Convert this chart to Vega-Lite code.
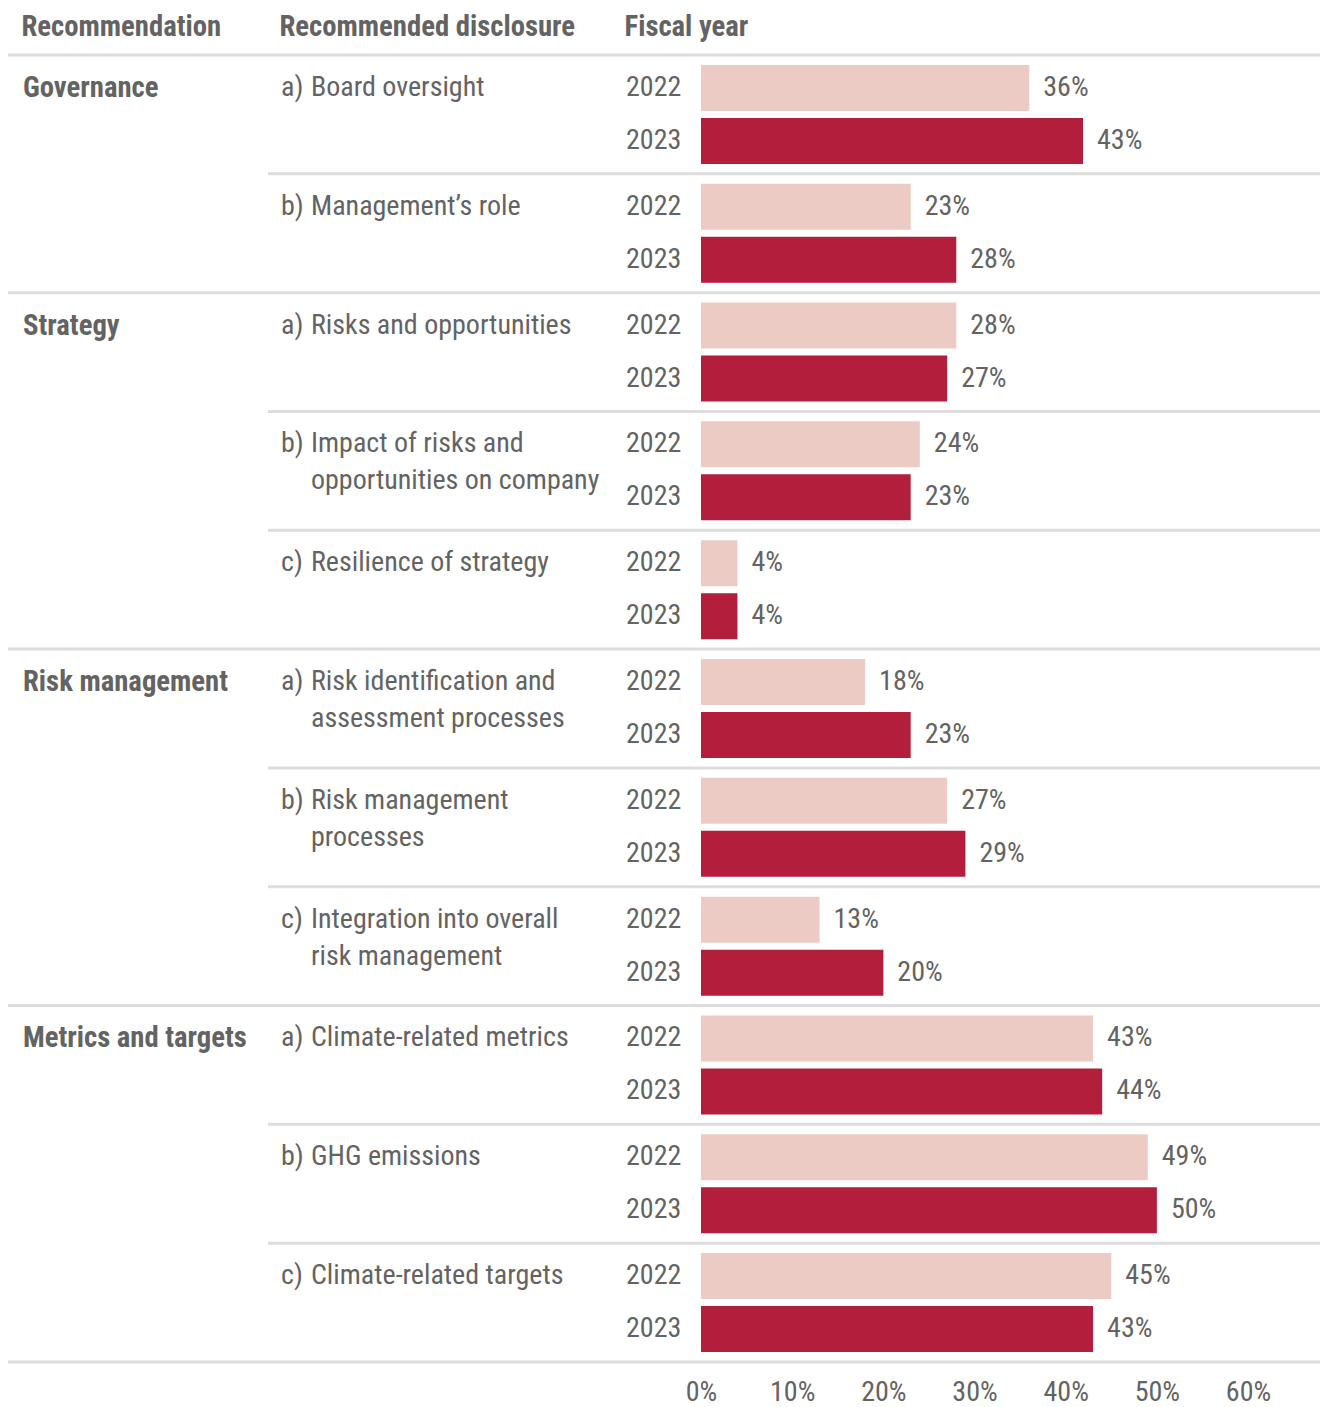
{
  "$schema": "https://vega.github.io/schema/vega-lite/v6.json",
  "padding": {"left": 6, "top": 12, "right": 0, "bottom": 0},
  "bounds": "flush",
  "spacing": 0,
  "config": {
    "view": {"stroke": null},
    "font": "Roboto Condensed, Liberation Sans Narrow, DejaVu Sans Condensed, Roboto",
    "title": {"fontSize": 28.7, "fontWeight": "bold", "color": "#636363", "anchor": "start", "baseline": "middle", "offset": 12, "font": "Roboto Condensed, Liberation Sans Narrow, DejaVu Sans Condensed, Roboto"},
    "text": {"fontSize": 28, "color": "#636363", "baseline": "middle", "align": "left"},
    "rule": {"stroke": "#DDDDDD", "strokeWidth": 3}
  },
  "datasets": {
    "bars": [
      {"rec": "Governance", "disc": "a) Board oversight", "year": "2022", "value": 0.36, "label": "36%"},
      {"rec": "Governance", "disc": "a) Board oversight", "year": "2023", "value": 0.419, "label": "43%"},
      {"rec": "Governance", "disc": "b) Management’s role", "year": "2022", "value": 0.23, "label": "23%"},
      {"rec": "Governance", "disc": "b) Management’s role", "year": "2023", "value": 0.28, "label": "28%"},
      {"rec": "Strategy", "disc": "a) Risks and opportunities", "year": "2022", "value": 0.28, "label": "28%"},
      {"rec": "Strategy", "disc": "a) Risks and opportunities", "year": "2023", "value": 0.27, "label": "27%"},
      {"rec": "Strategy", "disc": "b) Impact of risks and opportunities on company", "year": "2022", "value": 0.24, "label": "24%"},
      {"rec": "Strategy", "disc": "b) Impact of risks and opportunities on company", "year": "2023", "value": 0.23, "label": "23%"},
      {"rec": "Strategy", "disc": "c) Resilience of strategy", "year": "2022", "value": 0.04, "label": "4%"},
      {"rec": "Strategy", "disc": "c) Resilience of strategy", "year": "2023", "value": 0.04, "label": "4%"},
      {"rec": "Risk management", "disc": "a) Risk identification and assessment processes", "year": "2022", "value": 0.18, "label": "18%"},
      {"rec": "Risk management", "disc": "a) Risk identification and assessment processes", "year": "2023", "value": 0.23, "label": "23%"},
      {"rec": "Risk management", "disc": "b) Risk management processes", "year": "2022", "value": 0.27, "label": "27%"},
      {"rec": "Risk management", "disc": "b) Risk management processes", "year": "2023", "value": 0.29, "label": "29%"},
      {"rec": "Risk management", "disc": "c) Integration into overall risk management", "year": "2022", "value": 0.13, "label": "13%"},
      {"rec": "Risk management", "disc": "c) Integration into overall risk management", "year": "2023", "value": 0.20, "label": "20%"},
      {"rec": "Metrics and targets", "disc": "a) Climate-related metrics", "year": "2022", "value": 0.43, "label": "43%"},
      {"rec": "Metrics and targets", "disc": "a) Climate-related metrics", "year": "2023", "value": 0.44, "label": "44%"},
      {"rec": "Metrics and targets", "disc": "b) GHG emissions", "year": "2022", "value": 0.49, "label": "49%"},
      {"rec": "Metrics and targets", "disc": "b) GHG emissions", "year": "2023", "value": 0.50, "label": "50%"},
      {"rec": "Metrics and targets", "disc": "c) Climate-related targets", "year": "2022", "value": 0.45, "label": "45%"},
      {"rec": "Metrics and targets", "disc": "c) Climate-related targets", "year": "2023", "value": 0.43, "label": "43%"}
    ],
    "labels": [
      {"disc": "a) Board oversight", "letter": "a)", "line1": "Board oversight", "line2": ""},
      {"disc": "b) Management’s role", "letter": "b)", "line1": "Management’s role", "line2": ""},
      {"disc": "a) Risks and opportunities", "letter": "a)", "line1": "Risks and opportunities", "line2": ""},
      {"disc": "b) Impact of risks and opportunities on company", "letter": "b)", "line1": "Impact of risks and", "line2": "opportunities on company"},
      {"disc": "c) Resilience of strategy", "letter": "c)", "line1": "Resilience of strategy", "line2": ""},
      {"disc": "a) Risk identification and assessment processes", "letter": "a)", "line1": "Risk identification and", "line2": "assessment processes"},
      {"disc": "b) Risk management processes", "letter": "b)", "line1": "Risk management", "line2": "processes"},
      {"disc": "c) Integration into overall risk management", "letter": "c)", "line1": "Integration into overall", "line2": "risk management"},
      {"disc": "a) Climate-related metrics", "letter": "a)", "line1": "Climate-related metrics", "line2": ""},
      {"disc": "b) GHG emissions", "letter": "b)", "line1": "GHG emissions", "line2": ""},
      {"disc": "c) Climate-related targets", "letter": "c)", "line1": "Climate-related targets", "line2": ""}
    ]
  },
  "hconcat": [
    {
      "width": 260, "height": 1307,
      "title": {"text": "Recommendation", "dx": 15},
      "data": {"name": "bars"},
      "transform": [
        {"filter": "datum.year == '2022'"},
        {"window": [{"op": "row_number", "as": "rn"}], "groupby": ["rec"]}
      ],
      "encoding": {
        "y": {"field": "disc", "type": "nominal", "axis": null, "sort": null,
          "scale": {"domain": ["a) Board oversight", "b) Management’s role", "a) Risks and opportunities", "b) Impact of risks and opportunities on company", "c) Resilience of strategy", "a) Risk identification and assessment processes", "b) Risk management processes", "c) Integration into overall risk management", "a) Climate-related metrics", "b) GHG emissions", "c) Climate-related targets"], "paddingInner": 0, "paddingOuter": 0}}
      },
      "layer": [
        {
          "transform": [{"filter": "datum.rn == 1"}],
          "mark": {"type": "text", "fontWeight": "bold", "fontSize": 28.7, "dx": 15},
          "encoding": {
            "x": {"value": 0},
            "yOffset": {"field": "year", "type": "nominal", "scale": {"domain": ["2022", "2023"], "paddingInner": 0.132, "paddingOuter": 0.187}},
            "text": {"field": "rec"}
          }
        },
        {
          "transform": [{"filter": "datum.rn == 1"}],
          "mark": {"type": "rule"},
          "encoding": {"y": {"field": "disc", "type": "nominal", "bandPosition": 0, "axis": null}}
        },
        {
          "transform": [{"filter": "datum.disc == 'c) Climate-related targets'"}],
          "mark": {"type": "rule"},
          "encoding": {"y": {"field": "disc", "type": "nominal", "bandPosition": 1, "axis": null}}
        }
      ]
    },
    {
      "width": 347, "height": 1307,
      "title": {"text": "Recommended disclosure", "dx": 13},
      "data": {"name": "bars"},
      "transform": [
        {"filter": "datum.year == '2022'"},
        {"lookup": "disc", "from": {"data": {"name": "labels"}, "key": "disc", "fields": ["letter", "line1", "line2"]}}
      ],
      "encoding": {
        "y": {"field": "disc", "type": "nominal", "axis": null, "sort": null,
          "scale": {"domain": ["a) Board oversight", "b) Management’s role", "a) Risks and opportunities", "b) Impact of risks and opportunities on company", "c) Resilience of strategy", "a) Risk identification and assessment processes", "b) Risk management processes", "c) Integration into overall risk management", "a) Climate-related metrics", "b) GHG emissions", "c) Climate-related targets"], "paddingInner": 0, "paddingOuter": 0}},
        "yOffset": {"field": "year", "type": "nominal", "scale": {"domain": ["2022", "2023"], "paddingInner": 0.132, "paddingOuter": 0.187}}
      },
      "layer": [
        {"mark": {"type": "text", "dx": 13}, "encoding": {"x": {"value": 0}, "text": {"field": "letter"}}},
        {"mark": {"type": "text", "dx": 43}, "encoding": {"x": {"value": 0}, "text": {"field": "line1"}}},
        {"mark": {"type": "text", "dx": 43, "dy": 37}, "encoding": {"x": {"value": 0}, "text": {"field": "line2"}}},
        {"mark": {"type": "rule"}, "encoding": {"y": {"field": "disc", "type": "nominal", "bandPosition": 0, "axis": null}, "yOffset": null}},
        {
          "transform": [{"filter": "datum.disc == 'c) Climate-related targets'"}],
          "mark": {"type": "rule"},
          "encoding": {"y": {"field": "disc", "type": "nominal", "bandPosition": 1, "axis": null}, "yOffset": null}
        }
      ]
    },
    {
      "width": 86, "height": 1307,
      "title": {"text": "Fiscal year", "dx": 11},
      "data": {"name": "bars"},
      "encoding": {
        "y": {"field": "disc", "type": "nominal", "axis": null, "sort": null,
          "scale": {"domain": ["a) Board oversight", "b) Management’s role", "a) Risks and opportunities", "b) Impact of risks and opportunities on company", "c) Resilience of strategy", "a) Risk identification and assessment processes", "b) Risk management processes", "c) Integration into overall risk management", "a) Climate-related metrics", "b) GHG emissions", "c) Climate-related targets"], "paddingInner": 0, "paddingOuter": 0}}
      },
      "layer": [
        {
          "mark": {"type": "text", "dx": 11},
          "encoding": {
            "x": {"value": 0},
            "yOffset": {"field": "year", "type": "nominal", "scale": {"domain": ["2022", "2023"], "paddingInner": 0.132, "paddingOuter": 0.187}},
            "text": {"field": "year"}
          }
        },
        {
          "transform": [{"filter": "datum.year == '2022'"}],
          "mark": {"type": "rule"},
          "encoding": {"y": {"field": "disc", "type": "nominal", "bandPosition": 0, "axis": null}}
        },
        {
          "transform": [{"filter": "datum.disc == 'c) Climate-related targets' && datum.year == '2022'"}],
          "mark": {"type": "rule"},
          "encoding": {"y": {"field": "disc", "type": "nominal", "bandPosition": 1, "axis": null}}
        }
      ]
    },
    {
      "width": 620, "height": 1307,
      "data": {"name": "bars"},
      "encoding": {
        "y": {"field": "disc", "type": "nominal", "axis": null, "sort": null,
          "scale": {"domain": ["a) Board oversight", "b) Management’s role", "a) Risks and opportunities", "b) Impact of risks and opportunities on company", "c) Resilience of strategy", "a) Risk identification and assessment processes", "b) Risk management processes", "c) Integration into overall risk management", "a) Climate-related metrics", "b) GHG emissions", "c) Climate-related targets"], "paddingInner": 0, "paddingOuter": 0}}
      },
      "layer": [
        {
          "mark": {"type": "bar"},
          "encoding": {
            "x": {"field": "value", "type": "quantitative", "scale": {"domain": [0, 0.68], "nice": false},
              "axis": {"format": ".0%", "values": [0, 0.1, 0.2, 0.3, 0.4, 0.5, 0.6], "domain": false, "ticks": false, "tickSize": 0, "grid": false, "title": null, "labelFontSize": 28, "labelColor": "#636363", "labelPadding": 16, "labelFlush": false, "labelFont": "Roboto Condensed, Liberation Sans Narrow, DejaVu Sans Condensed, Roboto"}},
            "yOffset": {"field": "year", "type": "nominal", "scale": {"domain": ["2022", "2023"], "paddingInner": 0.132, "paddingOuter": 0.187}},
            "color": {"field": "year", "type": "nominal", "scale": {"domain": ["2022", "2023"], "range": ["#EBCBC4", "#B31E3C"]}, "legend": null}
          }
        },
        {
          "mark": {"type": "text", "dx": 14},
          "encoding": {
            "x": {"field": "value", "type": "quantitative"},
            "yOffset": {"field": "year", "type": "nominal", "scale": {"domain": ["2022", "2023"], "paddingInner": 0.132, "paddingOuter": 0.187}},
            "text": {"field": "label"}
          }
        },
        {
          "transform": [{"filter": "datum.year == '2022'"}],
          "mark": {"type": "rule"},
          "encoding": {"y": {"field": "disc", "type": "nominal", "bandPosition": 0, "axis": null}}
        },
        {
          "transform": [{"filter": "datum.disc == 'c) Climate-related targets' && datum.year == '2022'"}],
          "mark": {"type": "rule"},
          "encoding": {"y": {"field": "disc", "type": "nominal", "bandPosition": 1, "axis": null}}
        }
      ]
    }
  ]
}
